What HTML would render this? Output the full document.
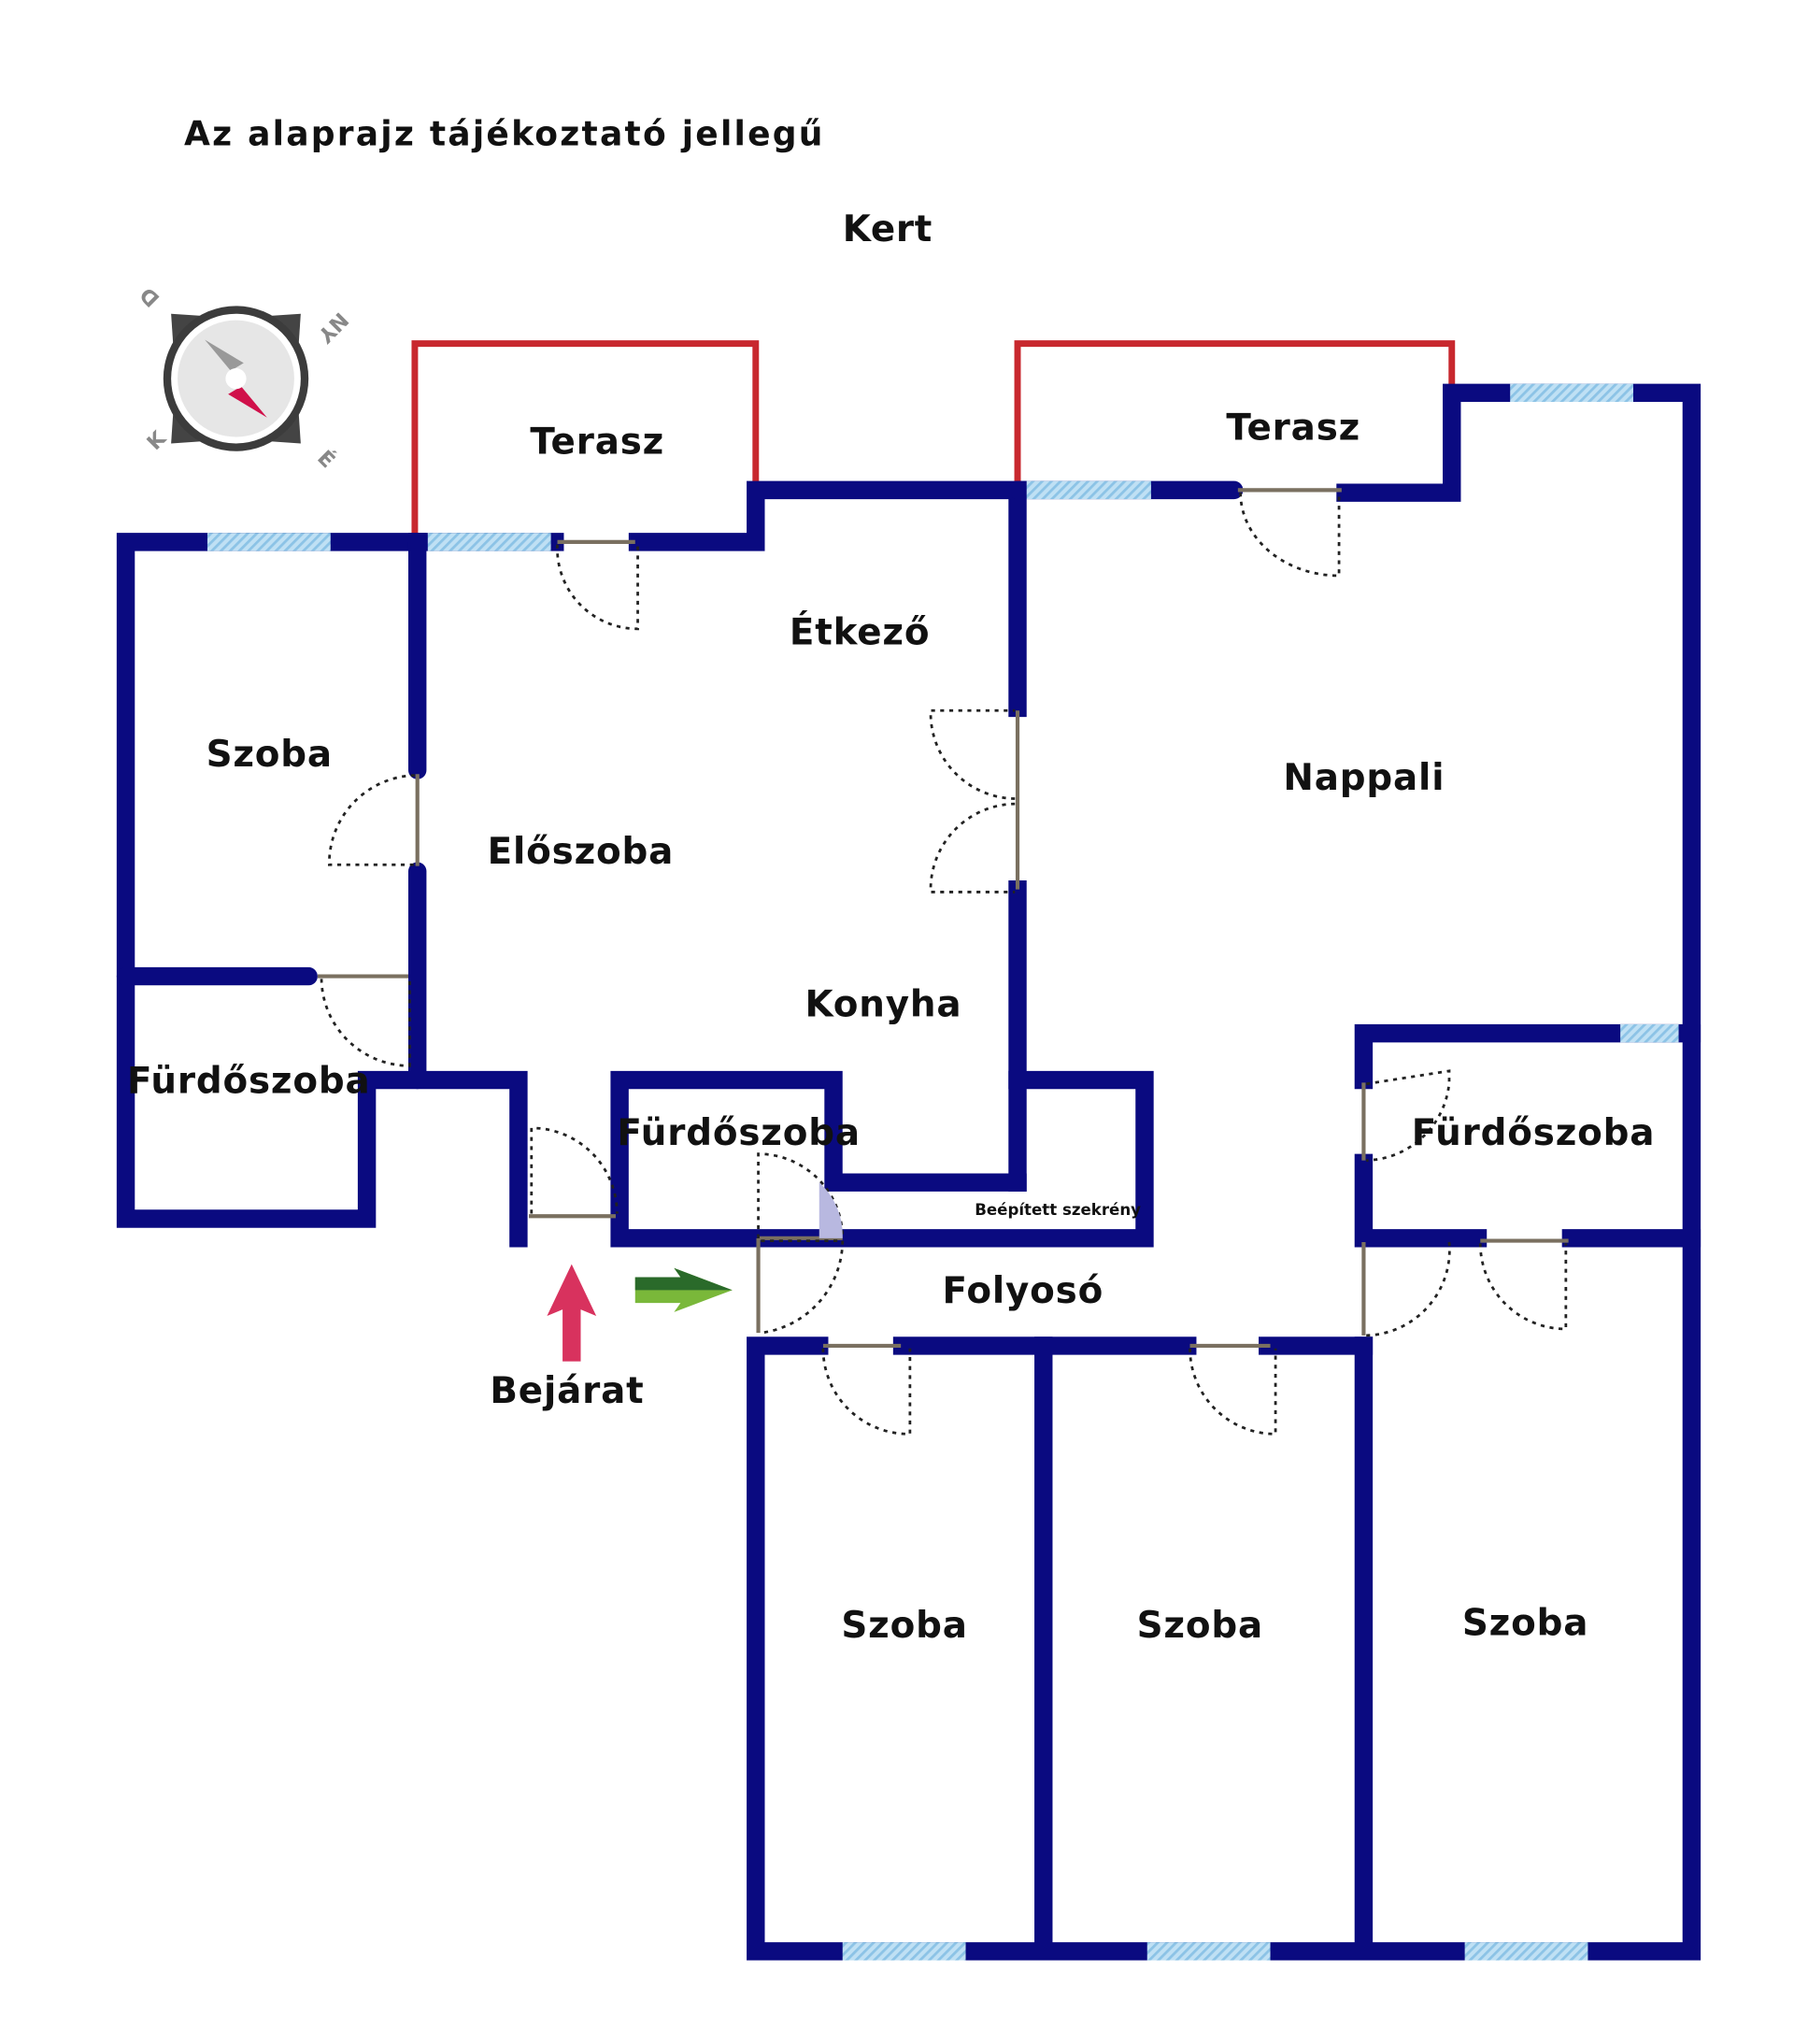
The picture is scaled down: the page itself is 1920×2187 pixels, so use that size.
<!DOCTYPE html>
<html><head><meta charset="utf-8"><style>
html,body{margin:0;padding:0;background:#fff;}
svg{display:block;}
text{font-family:"DejaVu Sans","Liberation Sans",sans-serif;font-weight:bold;fill:#111;}
</style></head><body>
<svg width="1920" height="2187" viewBox="0 0 1384 1576.5" preserveAspectRatio="none" xmlns="http://www.w3.org/2000/svg">
<defs>
<pattern id="h" width="5" height="5" patternUnits="userSpaceOnUse" patternTransform="rotate(45)">
<rect width="5" height="5" fill="#bfe0f4"/><rect width="2" height="5" fill="#8cc3e6"/>
</pattern>
</defs>
<rect width="1384" height="1577" fill="#fff"/>
<text x="142" y="112" font-size="26" letter-spacing="1.6">Az alaprajz tájékoztató jellegű</text>
<text x="650" y="186" font-size="28" letter-spacing="0.5">Kert</text>

<!-- compass -->
<g transform="translate(182,292)">
<polygon points="-50,-50 -20,-48 -48,-20" fill="#444"/>
<polygon points="50,-50 20,-48 48,-20" fill="#444"/>
<polygon points="-50,50 -20,48 -48,20" fill="#444"/>
<polygon points="50,50 20,48 48,20" fill="#444"/>
<circle r="56" fill="#3c3c3c"/><circle r="50" fill="#fff"/><circle r="45" fill="#e6e6e6"/>
<polygon points="-24,-30 -4,-6 6,-12" fill="#999"/>
<polygon points="24,30 4,6 -6,12" fill="#d0104a"/>
<circle r="8" fill="#fff"/>
<text x="-58" y="-62" font-size="16" style="fill:#888" transform="rotate(225 -58 -62)">D</text>
<text x="80" y="-52" font-size="16" style="fill:#888" transform="rotate(135 80 -52)">NY</text>
<text x="-62" y="56" font-size="16" style="fill:#888" transform="rotate(-45 -62 56)">K</text>
<text x="62" y="62" font-size="16" style="fill:#888" transform="rotate(45 62 62)">É</text>
</g>

<!-- terraces -->
<g fill="none" stroke="#c8282e" stroke-width="5">
<polyline points="320,418 320,265 583,265 583,378"/>
<polyline points="785,378 785,265 1120,265 1120,303"/>
</g>

<!-- walls -->
<g fill="none" stroke="#0a0a80" stroke-width="14" stroke-linecap="square" stroke-linejoin="miter">
<polyline points="322,418 97,418 97,940 283,940 283,833 400,833 400,955"/>
<line x1="97" y1="753" x2="238" y2="753" stroke-linecap="round"/>
<line x1="322" y1="418" x2="322" y2="594" stroke-linecap="round"/>
<line x1="322" y1="672" x2="322" y2="833" stroke-linecap="round"/>
<line x1="322" y1="418" x2="428" y2="418"/>
<polyline points="492,418 583,418 583,378 785,378 785,546" />
<line x1="785" y1="686" x2="785" y2="912"/>
<polyline points="785,912 643,912 643,833 478,833 478,955 883,955 883,833 785,833"/>
<line x1="785" y1="378" x2="952" y2="378" stroke-linecap="round"/>
<polyline points="1038,380 1120,380 1120,303 1305,303 1305,1505 583,1505 583,1038 632,1038"/>
<line x1="696" y1="1038" x2="916" y2="1038"/>
<line x1="978" y1="1038" x2="1052" y2="1038"/>
<line x1="805" y1="1038" x2="805" y2="1505"/>
<line x1="1052" y1="1038" x2="1052" y2="1505"/>
<polyline points="1052,833 1052,797 1305,797"/>
<polyline points="1052,897 1052,955 1140,955"/>
<line x1="1212" y1="955" x2="1305" y2="955"/>
</g>

<!-- windows -->
<g fill="url(#h)">
<rect x="160" y="411" width="95" height="14"/>
<rect x="330" y="411" width="95" height="14"/>
<rect x="792" y="371" width="96" height="14"/>
<rect x="1165" y="296" width="95" height="14"/>
<rect x="1250" y="790" width="45" height="14"/>
<rect x="650" y="1498" width="95" height="14"/>
<rect x="885" y="1498" width="95" height="14"/>
<rect x="1130" y="1498" width="95" height="14"/>
</g>

<!-- door leaves -->
<g stroke="#7a7060" stroke-width="3" fill="none">
<line x1="430" y1="418" x2="490" y2="418"/>
<line x1="322" y1="597" x2="322" y2="668"/>
<line x1="245" y1="753" x2="315" y2="753"/>
<line x1="408" y1="938" x2="475" y2="938"/>
<line x1="785" y1="548" x2="785" y2="686"/>
<line x1="955" y1="378" x2="1035" y2="378"/>
<line x1="585" y1="955" x2="650" y2="955"/>
<line x1="585" y1="955" x2="585" y2="1028"/>
<line x1="635" y1="1038" x2="695" y2="1038"/>
<line x1="918" y1="1038" x2="980" y2="1038"/>
<line x1="1052" y1="835" x2="1052" y2="895"/>
<line x1="1052" y1="958" x2="1052" y2="1030"/>
<line x1="1142" y1="957" x2="1210" y2="957"/>
</g>
<!-- door swings dotted -->
<g stroke="#222" stroke-width="2" stroke-dasharray="3,4" fill="none">
<path d="M430,420 A62,62 0 0 0 492,485 L492,420"/>
<path d="M320,598 A68,68 0 0 0 254,667 L320,667"/>
<path d="M248,755 A68,68 0 0 0 316,822 L316,755"/>
<path d="M410,936 L410,870 A66,66 0 0 1 476,936"/>
<path d="M783,616 A66,66 0 0 1 718,548 L783,548"/>
<path d="M783,620 A66,66 0 0 0 718,688 L783,688"/>
<path d="M957,380 A76,64 0 0 0 1033,444 L1033,380"/>
<path d="M585,955 L585,890 A65,65 0 0 1 650,955"/>
<path d="M587,957 L650,957 A72,72 0 0 1 587,1028"/>
<path d="M635,1040 A66,66 0 0 0 702,1106 L702,1040"/>
<path d="M918,1040 A66,66 0 0 0 984,1106 L984,1040"/>
<path d="M1054,836 L1118,826 L1118,835 A66,66 0 0 1 1054,895"/>
<path d="M1054,1030 A66,66 0 0 0 1118,958"/>
<path d="M1142,959 A66,66 0 0 0 1208,1025 L1208,959"/>
</g>
<path d="M632,912 A55,55 0 0 1 650,955 L632,955 Z" fill="#b8b8e0"/>

<!-- arrows -->
<polygon points="441,975 460,1015 448,1010 448,1050 434,1050 434,1010 422,1015" fill="#d8325e"/>
<polygon points="490,985 525,985 520,978 565,995 520,1012 525,1005 490,1005" fill="#7ab83a"/>
<polygon points="490,985 525,985 520,978 565,995 490,995" fill="#2a6a2a"/>

<!-- labels -->
<g font-size="28" letter-spacing="0.6">
<text x="409" y="350">Terasz</text>
<text x="946" y="339">Terasz</text>
<text x="609" y="497">Étkező</text>
<text x="159" y="591">Szoba</text>
<text x="376" y="666">Előszoba</text>
<text x="990" y="609">Nappali</text>
<text x="621" y="784">Konyha</text>
<text x="98" y="843">Fürdőszoba</text>
<text x="476" y="883">Fürdőszoba</text>
<text x="1089" y="883">Fürdőszoba</text>
<text x="727" y="1005">Folyosó</text>
<text x="378" y="1082">Bejárat</text>
<text x="649" y="1263">Szoba</text>
<text x="877" y="1263">Szoba</text>
<text x="1128" y="1261">Szoba</text>
</g>
<text x="752" y="937" font-size="12">Beépített szekrény</text>
</svg>
</body></html>
